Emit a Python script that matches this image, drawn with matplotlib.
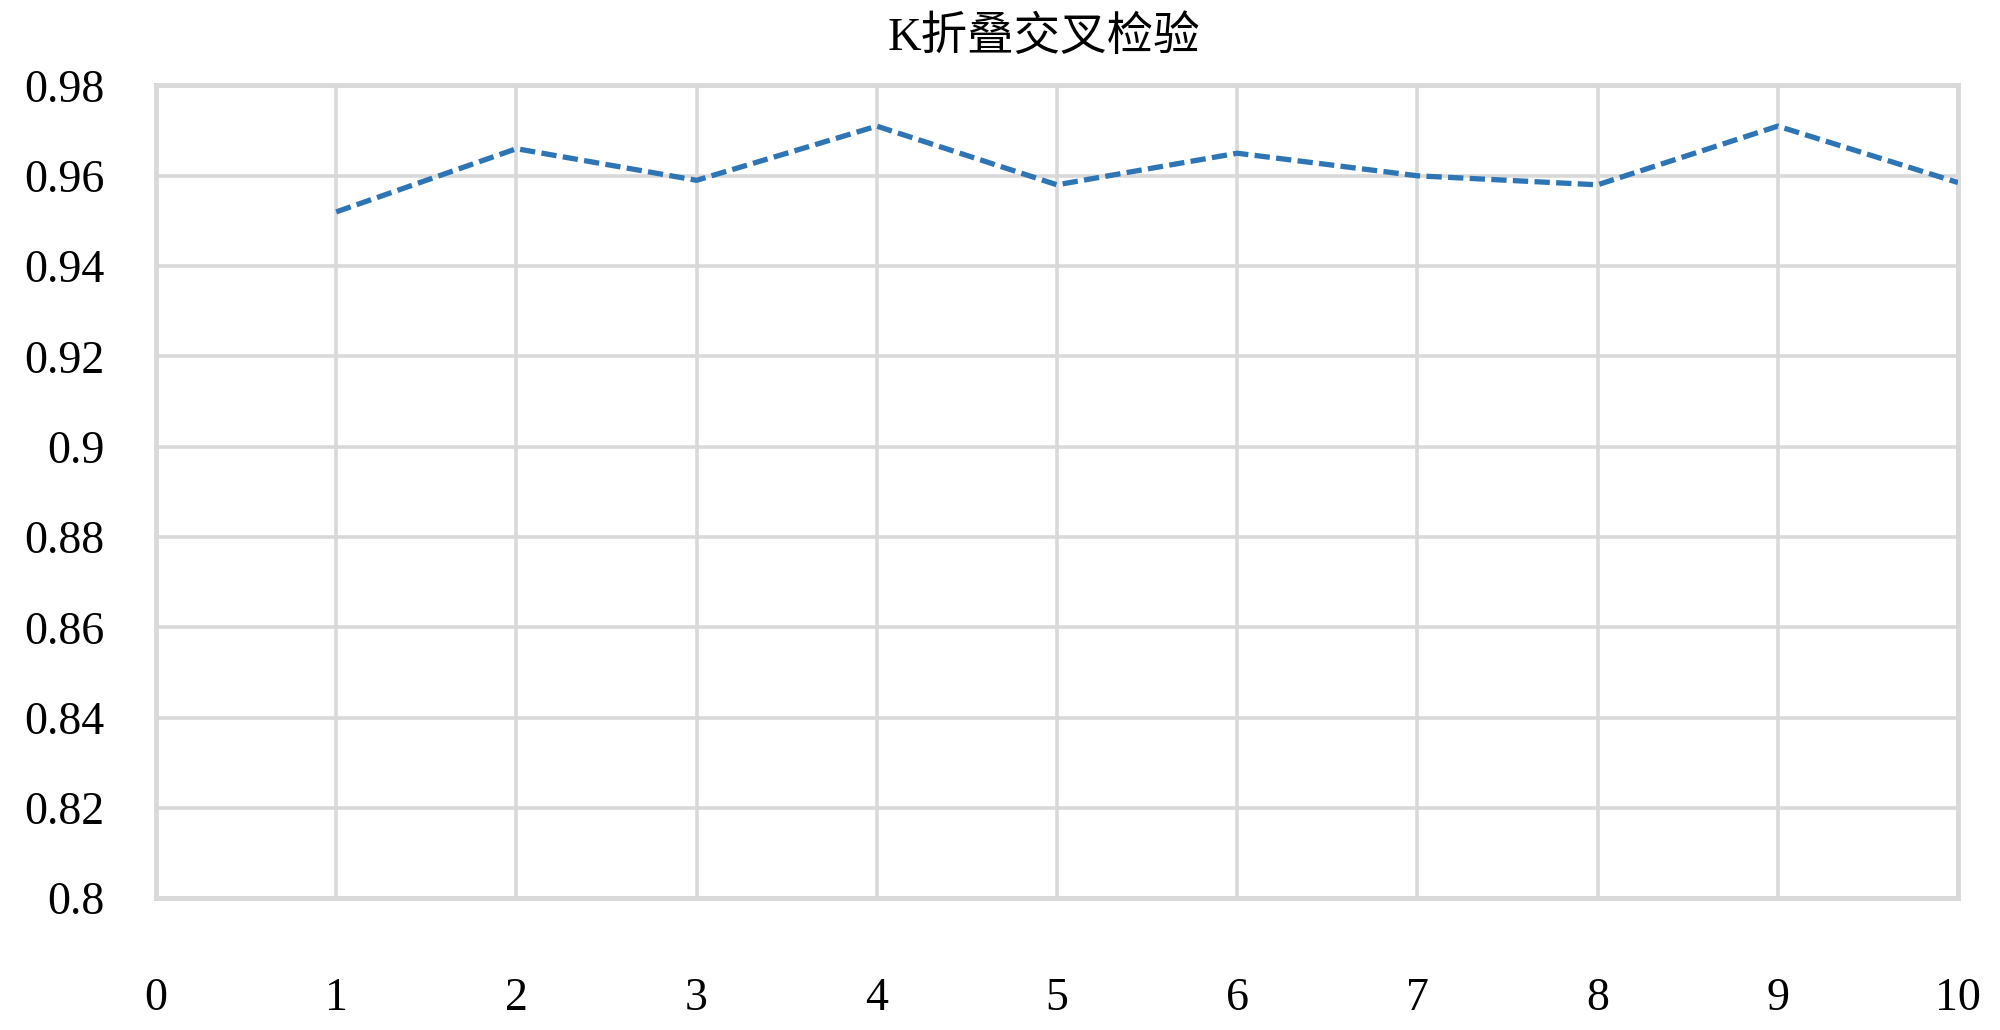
import matplotlib
matplotlib.use("Agg")
import matplotlib.pyplot as plt

title = "K折叠交叉检验"
folds = [1, 2, 3, 4, 5, 6, 7, 8, 9, 10]
accuracy = [0.952, 0.966, 0.959, 0.971, 0.958, 0.965, 0.960, 0.958, 0.971, 0.9585]
x_ticks = [0, 1, 2, 3, 4, 5, 6, 7, 8, 9, 10]
y_ticks = [0.8, 0.82, 0.84, 0.86, 0.88, 0.9, 0.92, 0.94, 0.96, 0.98]
y_tick_labels = ["0.8", "0.82", "0.84", "0.86", "0.88", "0.9", "0.92", "0.94", "0.96", "0.98"]

serif = ["Liberation Serif", "DejaVu Serif"]
title_font = ["Liberation Serif", "Noto Sans CJK SC", "DejaVu Sans"]

fig = plt.figure(figsize=(20, 10.3), dpi=100)
ax = fig.add_axes([0.078, 0.128, 0.901, 0.789])

grid_c = "#d9d9d9"
ax.plot(folds, accuracy, color="#2E75B6", lw=3.8, dashes=(2.9, 1.2),
        solid_capstyle="butt", dash_capstyle="butt", zorder=3)

ax.set_xlim(0, 10)
ax.set_ylim(0.8, 0.98)
ax.set_xticks(x_ticks)
ax.set_xticklabels([str(v) for v in x_ticks])
ax.set_yticks(y_ticks)
ax.set_yticklabels(y_tick_labels)
ax.grid(True, color=grid_c, lw=2.6, zorder=0)
ax.set_axisbelow(True)
for s in ax.spines.values():
    s.set_color(grid_c)
    s.set_linewidth(3.5)

ax.tick_params(axis="both", length=0, labelsize=33)
ax.tick_params(axis="x", pad=57)
ax.tick_params(axis="y", pad=37)
for lab in ax.get_xticklabels() + ax.get_yticklabels():
    lab.set_fontfamily(serif)

fig.text(0.522, 0.963, title, ha="center", va="center", fontsize=33.5,
         family=title_font)

fig.savefig("out.png", dpi=100, facecolor="white")
